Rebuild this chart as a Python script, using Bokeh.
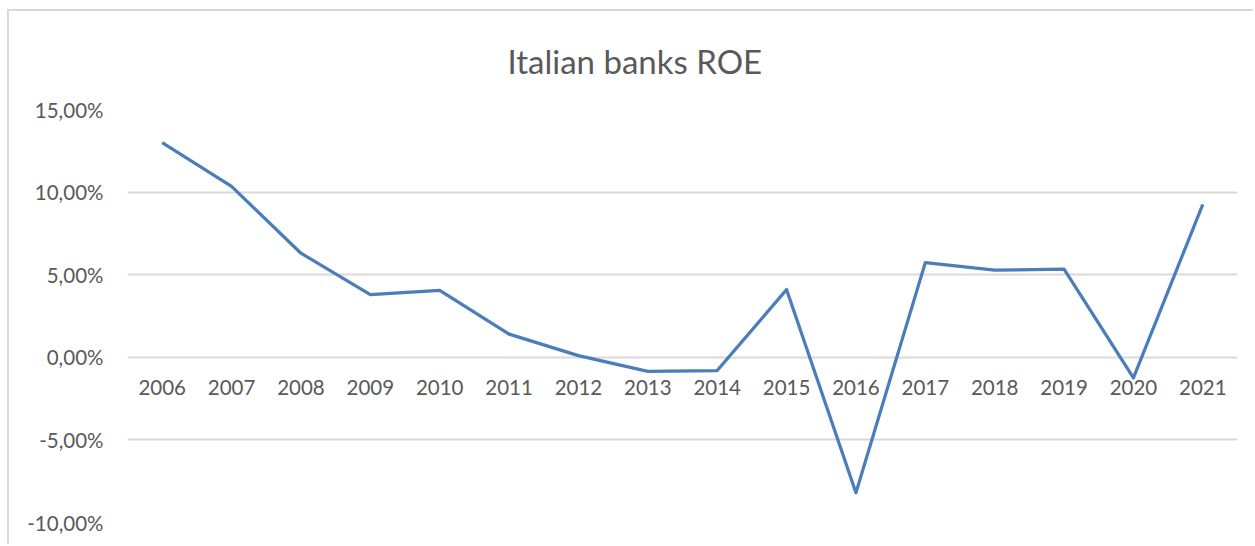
from bokeh.plotting import figure
from bokeh.models import Range1d, FactorRange, FixedTicker
from bokeh.embed import file_html
from bokeh.resources import INLINE

years = ["2006", "2007", "2008", "2009", "2010", "2011", "2012", "2013",
         "2014", "2015", "2016", "2017", "2018", "2019", "2020", "2021"]
roe = [13.0, 10.35, 6.3, 3.8, 4.05, 1.4, 0.1, -0.85,
       -0.8, 4.1, -8.2, 5.73, 5.27, 5.33, -1.25, 9.26]
y_ticks = [-10, -5, 0, 5, 10, 15]
y_tick_labels = ["-10,00%", "-5,00%", "0,00%", "5,00%", "10,00%", "15,00%"]
title_text = "Italian banks ROE"

FONT = "Lato"
GREY = "#595959"

p = figure(width=1246, height=535, output_backend="svg", toolbar_location=None,
           x_range=FactorRange(*years, range_padding=0),
           y_range=Range1d(-10, 15),
           min_border_left=118, min_border_right=18,
           min_border_top=98, min_border_bottom=24)
p.styles = {"margin-left": "7px", "margin-top": "9px",
            "border-left": "2px solid #d9d9d9", "border-top": "2px solid #d9d9d9"}
p.outline_line_color = None
p.background_fill_color = "white"
p.border_fill_color = "white"

p.title.text = title_text
p.title.align = "left"
p.title.vertical_align = "top"
p.title.text_font = FONT
p.title.text_font_size = "33px"
p.title.text_font_style = "normal"
p.title.text_color = GREY
p.title.offset = 380
p.title.standoff = 54

p.xgrid.grid_line_color = None
p.ygrid.grid_line_color = "#d9d9d9"
p.ygrid.grid_line_width = 2
p.ygrid.ticker = FixedTicker(ticks=y_ticks)

yax = p.yaxis[0]
yax.ticker = FixedTicker(ticks=y_ticks)
yax.major_label_overrides = {t: l for t, l in zip(y_ticks, y_tick_labels)}
yax.axis_line_color = None
yax.major_tick_line_color = None
yax.minor_tick_line_color = None
yax.major_tick_out = 0
yax.major_tick_in = 0
yax.major_label_standoff = 24
yax.major_label_text_font = FONT
yax.major_label_text_font_size = "20.5px"
yax.major_label_text_color = GREY

xax = p.xaxis[0]
xax.fixed_location = 0
xax.axis_line_color = None
xax.major_tick_line_color = None
xax.minor_tick_line_color = None
xax.major_tick_out = 0
xax.major_tick_in = 0
xax.major_label_standoff = 23
xax.major_label_text_font = FONT
xax.major_label_text_font_size = "20.5px"
xax.major_label_text_color = GREY

p.line(x=years, y=roe, line_color="#4a7ebb", line_width=3.25, line_join="round")

open("out.html", "w").write(file_html(p, INLINE))
